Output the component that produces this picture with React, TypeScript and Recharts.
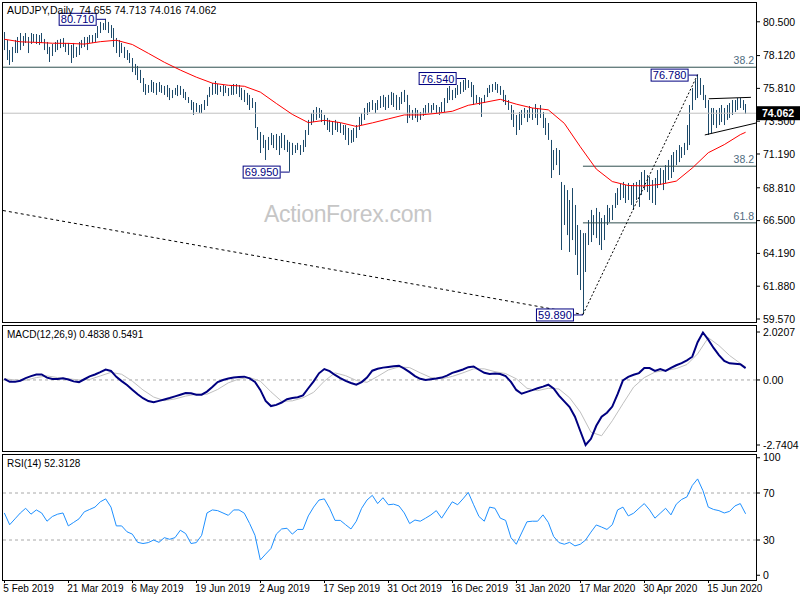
import React from "react";
import {
  ComposedChart,
  Bar,
  Line,
  XAxis,
  YAxis,
  ReferenceLine,
  ReferenceDot,
} from "recharts";

const FONT = '"Liberation Sans", Arial, sans-serif';
const BAR_COLOR = "#1d4a6a";

// daily highs / lows, AUDJPY Feb 2019 - Jun 2020
const highs = [
  79.78, 79.22, 78.51, 78.73, 79.22, 79.43, 79.71, 79.5, 79.71, 79.43,
  79.71, 79.64, 79.64, 79.57, 79.71, 79.29, 79.08, 78.73, 78.94, 79.08,
  79.22, 79.29, 79.36, 79.01, 79.01, 78.87, 79.01, 78.73, 79.08, 79.22,
  79.43, 79.43, 79.57, 79.57, 79.71, 80.2, 80.49, 80.41, 80.71, 80.49,
  80.27, 80.06, 79.36, 79.22, 79.01, 78.73, 78.51, 78.3, 77.95, 77.53,
  77.39, 77.11, 76.54, 76.12, 76.05, 76.4, 76.26, 76.19, 76.26, 76.05,
  75.98, 76.05, 75.84, 75.7, 75.84, 76.05, 75.98, 75.77, 75.56, 75.2,
  74.99, 74.85, 74.78, 74.64, 74.71, 74.99, 75.35, 75.91, 76.19, 76.33,
  76.12, 75.98, 76.05, 75.98, 75.84, 75.98, 76.12, 76.12, 76.05, 75.84,
  75.7, 75.49, 75.35, 75.13, 74.85, 73.09, 72.74, 72.53, 72.18, 72.39,
  72.67, 72.53, 72.6, 72.46, 72.67, 72.53, 72.18, 72.04, 71.97, 71.82,
  71.97, 71.82, 72.18, 72.88, 73.59, 74.08, 74.29, 74.5, 74.43, 74.29,
  73.94, 73.73, 73.59, 73.44, 73.59, 73.44, 73.37, 73.23, 73.23, 73.02,
  72.88, 73.02, 73.23, 73.8, 74.08, 74.43, 74.78, 74.85, 74.99, 74.78,
  74.99, 75.27, 75.35, 75.2, 75.35, 75.56, 75.49, 75.35, 75.2, 75.56,
  75.7, 75.35, 74.64, 74.29, 74.43, 74.29, 74.15, 74.43, 74.64, 74.78,
  74.64, 74.78, 74.64, 74.5, 74.85, 75.13, 75.84, 75.98, 75.7, 75.84,
  76.05, 76.26, 76.4, 76.54, 76.4, 76.26, 76.05, 75.35, 75.2, 75.13,
  75.35, 75.84, 76.05, 76.12, 76.26, 76.12, 75.98, 75.7, 75.35, 74.99,
  74.64, 74.29, 73.94, 74.15, 74.29, 74.43, 74.29, 74.57, 74.43, 74.71,
  74.43, 74.64, 74.15, 73.73, 73.37, 72.18, 71.47, 71.61, 71.47, 69.22,
  69.01, 68.65, 67.95, 68.79, 67.6, 66.19, 65.84, 65.62, 65.62, 66.54,
  67.25, 66.89, 67.39, 67.11, 66.68, 66.89, 67.6, 67.39, 67.6, 68.44,
  68.79, 69.08, 69.22, 69.01, 69.15, 69.01, 69.15, 69.22, 69.36, 69.92,
  70.06, 69.71, 69.57, 69.36, 69.5, 70.06, 70.2, 70.06, 70.41, 70.77,
  71.12, 71.33, 71.47, 71.82, 71.68, 71.97, 73.23, 74.64, 75.84, 76.4,
  76.78, 76.54, 76.05, 75.35, 74.99, 74.43, 74.43, 74.29, 74.43, 74.64,
  74.43, 74.64, 74.78, 74.99, 74.99, 75.13, 75.13, 74.99, 74.71,
];

const lows = [
  78.51, 77.81, 77.46, 77.67, 78.3, 78.3, 78.51, 78.8, 79.01, 78.3,
  78.94, 79.08, 78.94, 78.87, 79.01, 78.51, 78.23, 77.67, 78.09, 78.37,
  78.51, 78.65, 78.73, 78.37, 78.16, 77.6, 77.95, 78.02, 78.16, 78.65,
  78.73, 78.51, 79.01, 79.01, 79.08, 79.36, 79.71, 79.92, 79.92, 79.71,
  79.36, 78.73, 78.3, 78.02, 78.3, 77.95, 77.81, 77.6, 76.96, 76.75,
  76.4, 76.19, 75.56, 75.35, 75.49, 75.56, 75.49, 75.35, 75.56, 75.49,
  75.35, 75.2, 74.99, 75.13, 75.35, 75.27, 75.35, 75.13, 74.99, 74.78,
  74.29, 73.94, 74.15, 74.08, 74.08, 74.29, 74.57, 75.2, 75.35, 75.42,
  75.35, 75.56, 75.27, 75.49, 75.27, 75.35, 75.35, 75.42, 75.2, 74.99,
  74.85, 74.64, 74.29, 74.43, 73.02, 72.18, 71.26, 71.61, 70.77, 71.47,
  71.82, 71.61, 71.47, 71.12, 71.61, 71.47, 71.33, 69.95, 71.12, 71.26,
  71.47, 71.12, 71.33, 71.68, 72.53, 73.23, 73.44, 73.59, 73.73, 73.44,
  73.23, 72.88, 72.74, 72.53, 72.88, 72.74, 72.67, 72.53, 72.18, 71.82,
  71.97, 72.04, 72.32, 72.88, 73.23, 73.59, 73.94, 74.15, 74.29, 74.08,
  74.29, 74.43, 74.5, 74.29, 74.43, 74.64, 74.5, 74.29, 74.29, 74.71,
  74.85, 73.37, 73.73, 73.59, 73.73, 73.44, 73.59, 73.87, 73.94, 74.08,
  74.08, 74.29, 74.01, 73.94, 74.15, 74.15, 74.78, 74.99, 74.99, 75.13,
  75.35, 75.42, 75.56, 75.7, 75.84, 75.2, 74.64, 74.78, 74.64, 73.8,
  74.78, 75.2, 75.49, 75.56, 75.7, 75.49, 75.35, 74.85, 74.64, 74.29,
  73.59, 73.09, 72.53, 72.88, 73.23, 73.73, 73.44, 73.73, 73.59, 73.73,
  73.23, 73.73, 73.02, 72.53, 72.18, 69.5, 70.06, 70.41, 69.71, 64.43,
  66.19, 65.48, 64.29, 65.13, 64.08, 62.67, 61.61, 59.89, 62.88, 64.78,
  64.99, 65.48, 65.27, 64.78, 64.43, 65.13, 66.19, 66.4, 66.54, 67.39,
  67.6, 67.95, 68.09, 67.74, 67.95, 67.6, 67.25, 67.95, 67.46, 68.3,
  68.65, 68.51, 67.95, 67.74, 67.6, 68.79, 69.01, 68.65, 69.15, 69.36,
  69.5, 69.92, 70.41, 70.62, 70.91, 71.12, 71.47, 71.82, 74.29, 74.99,
  75.13, 75.35, 74.99, 74.43, 72.53, 72.67, 73.23, 73.02, 73.23, 73.44,
  73.23, 73.59, 73.73, 73.94, 74.15, 74.29, 74.43, 74.29, 74.02,
];

// moving average (red), one value every 6 bars + last bar
const maValues = [
  79.27, 79.09, 79.05, 78.99, 78.98, 78.93, 79.1, 79.2, 78.9, 78.28,
  77.65, 77.1, 76.6, 76.18, 76.03, 75.96, 75.55, 74.75, 73.98, 73.4,
  73.56, 73.4, 73.13, 73.38, 73.66, 73.94, 73.94, 74.05, 74.2, 74.62,
  74.82, 75.04, 74.7, 74.43, 74.3, 73.35, 71.7, 70.13, 69.25, 68.97,
  68.94, 69.05, 69.28, 70.2, 71.28, 71.85, 72.55, 72.72,
];

// MACD main line, every 2 bars
const macdValues = [
  0.05, -0.08, -0.08, -0.03, 0.08, 0.16, 0.23, 0.23, 0.1, 0.04,
  0.04, 0.07, 0.02, -0.06, -0.09, 0.03, 0.15, 0.23, 0.33, 0.44,
  0.38, 0.13, -0.05, -0.21, -0.41, -0.6, -0.77, -0.89, -0.94, -0.88,
  -0.82, -0.76, -0.69, -0.62, -0.55, -0.56, -0.62, -0.62, -0.49, -0.3,
  -0.09, 0.0, 0.06, 0.1, 0.12, 0.14, 0.07, -0.08, -0.42, -0.88,
  -1.1, -1.05, -0.95, -0.81, -0.76, -0.73, -0.65, -0.35, -0.06, 0.28,
  0.46, 0.37, 0.21, 0.08, -0.04, -0.13, -0.2, -0.09, 0.1, 0.39,
  0.47, 0.52, 0.55, 0.58, 0.6, 0.48, 0.33, 0.16, 0.05, 0.0,
  0.03, 0.06, 0.1, 0.18, 0.3, 0.37, 0.44, 0.54, 0.57, 0.43,
  0.3, 0.25, 0.27, 0.25, 0.16, -0.08, -0.42, -0.58, -0.5, -0.43,
  -0.35, -0.28, -0.2, -0.36, -0.66, -0.9, -1.14, -1.55, -2.15, -2.74,
  -2.48, -1.93, -1.55, -1.38, -1.12, -0.6, -0.02, 0.13, 0.22, 0.29,
  0.5, 0.5, 0.38, 0.46, 0.38, 0.51, 0.62, 0.71, 0.83, 0.98,
  1.59, 2.0, 1.7, 1.35, 1.05, 0.8, 0.7, 0.68, 0.66, 0.5,
];

// MACD signal, every 4 bars + last bar
const signalValues = [
  0.05, 0.0, -0.01, 0.1, 0.17, 0.1, 0.05, 0.0, 0.02, 0.17,
  0.32, 0.24, -0.05, -0.42, -0.72, -0.87, -0.8, -0.68, -0.6, -0.6,
  -0.4, -0.12, 0.04, 0.1, -0.05, -0.5, -0.9, -0.88, -0.75, -0.52,
  -0.05, 0.3, 0.18, -0.02, -0.1, 0.15, 0.42, 0.55, 0.52, 0.3,
  0.1, 0.05, 0.15, 0.3, 0.47, 0.47, 0.35, 0.27, 0.05, -0.35,
  -0.45, -0.35, -0.38, -0.75, -1.35, -2.2, -2.35, -1.72, -1.0, -0.3,
  0.1, 0.33, 0.4, 0.48, 0.65, 1.1, 1.78, 1.45, 1.03, 0.7,
  0.55,
];

// RSI(14), every 2 bars
const rsiValues = [
  53, 43, 48, 53, 57, 52, 55.6, 53, 46, 50,
  52, 53, 42, 45, 48, 54, 56, 58, 62.5, 65,
  58, 42, 42, 37, 35, 28, 27, 27.8, 30, 28,
  32, 30.6, 32, 38.3, 35.5, 27, 27.8, 34, 53, 55.6,
  55, 53, 51, 55.6, 55.6, 52.8, 44, 34, 13, 18,
  22.8, 35, 39.4, 40, 35, 39, 39, 50.5, 58, 64,
  65, 57, 46.7, 46.7, 43, 39.4, 46, 57, 64, 68,
  61, 66, 60, 60.5, 59, 53, 44, 47, 46, 48.6,
  51.4, 55, 48.6, 55.6, 62.5, 60, 65, 70.5, 60, 50,
  46, 58, 57, 48.6, 46.7, 32, 26.4, 36, 45.5, 46,
  46, 51.4, 45, 33, 27.8, 26.4, 28, 25, 26.4, 30,
  36.7, 42.8, 41, 39, 43, 55.6, 58, 50.5, 52.8, 57,
  61, 55.6, 48.6, 52.8, 57, 51.4, 60.5, 64.5, 66.7, 76.4,
  82, 72, 58, 56, 55, 53, 54.4, 59, 61, 52.3,
];

const dateLabels = [
  "5 Feb 2019", "21 Mar 2019", "6 May 2019", "19 Jun 2019", "2 Aug 2019",
  "17 Sep 2019", "31 Oct 2019", "16 Dec 2019", "31 Jan 2020", "17 Mar 2020",
  "30 Apr 2020", "15 Jun 2020",
];
const DATE_STEP = 24;

const priceTicks = [59.57, 61.88, 64.19, 66.5, 68.81, 71.19, 73.5, 75.81, 78.12, 80.5];
const macdTicks = [-2.7404, 0, 2.0207];
const rsiTicks = [0, 30, 70, 100];

const symbol = "AUDJPY,Daily";
const ohlc = [74.655, 74.713, 74.016, 74.062];
const lastClose = 74.062;
const macdLast = [0.4838, 0.5491];
const rsiLast = 52.3128;

// swing highs / lows with their value tags
const swingIdx = [38, 107, 173, 217, 260];
const swingPrice = [80.71, 69.95, 76.54, 59.89, 76.78];

// fibonacci levels
const fibLong = 77.3;
const fibLevels = [70.33, 66.34];
const fibNames = ["38.2", "61.8"];

// trend lines (bar index, price)
const longTrend = [{ x: -0.5, y: 67.21 }, { x: 217, y: 59.89 }];
const riseTrend = [{ x: 217, y: 59.89 }, { x: 260, y: 76.78 }];
const triTop = [{ x: 264.2, y: 75.08 }, { x: 280, y: 75.18 }];
const triBottom = [{ x: 262.7, y: 72.53 }, { x: 281.9, y: 73.37 }];

const LAST = highs.length - 1;
const X_DOMAIN: [number, number] = [-0.5, 281.9];

const pick = (vals: number[], step: number, i: number) =>
  i === LAST ? vals[vals.length - 1] : i % step === 0 ? vals[i / step] : null;

const priceData = highs.map((h, i) => ({
  i,
  range: [lows[i], h],
  ma: pick(maValues, 6, i),
}));

const oscData = highs.map((_, i) => ({
  i,
  macd: pick(macdValues, 2, i),
  signal: pick(signalValues, 4, i),
  rsi: pick(rsiValues, 2, i),
}));

const dateTicks = dateLabels.map((_, k) => k * DATE_STEP);

const axisTick = { fontSize: 10.5, fill: "#000", fontFamily: FONT };

const HLBar = (p: any) => (
  <rect
    x={Math.round(p.x + p.width / 2 - 0.5)}
    y={p.y}
    width={1}
    height={Math.max(1, p.height)}
    fill={BAR_COLOR}
  />
);

const swingTag = (text: string) => (p: any) => (
  <g>
    <line x1={p.cx - 9} y1={p.cy + 0.5} x2={p.cx} y2={p.cy + 0.5} stroke="#000080" />
    <rect x={p.cx - 46.5} y={p.cy - 5.5} width={37} height={12} fill="#fff" stroke="#000080" />
    <text x={p.cx - 28} y={p.cy + 4.5} textAnchor="middle" fontSize={11} fill="#000080" fontFamily={FONT}>
      {text}
    </text>
  </g>
);

const fibLabel = (text: string) => (props: any) => {
  const vb = props.viewBox || {};
  return (
    <text x={vb.x + vb.width - 2} y={vb.y - 3} textAnchor="end" fontSize={10.5} fill="#4f6b80" fontFamily={FONT}>
      {text}
    </text>
  );
};

const priceTag = (props: any) => {
  const vb = props.viewBox || {};
  return (
    <g>
      <rect x={vb.x + vb.width + 1} y={vb.y - 7} width={43} height={14} fill="#000" />
      <text x={vb.x + vb.width + 6} y={vb.y + 4} fontSize={10.5} fill="#fff" fontFamily={FONT} fontWeight="bold">
        {lastClose.toFixed(3)}
      </text>
    </g>
  );
};

const DateTick = (props: any) => {
  const { x, y, payload } = props;
  const label = dateLabels[dateTicks.indexOf(payload.value)];
  return (
    <g>
      <line x1={Math.round(x) + 0.5} y1={y} x2={Math.round(x) + 0.5} y2={y + 3} stroke="#000" />
      <text x={x - 1} y={y + 12} fontSize={10} fill="#000" fontFamily={FONT}>
        {label}
      </text>
    </g>
  );
};

export default function App() {
  return (
    <div style={{ position: "absolute", left: 0, top: 0, width: 800, height: 600, background: "#fff" }}>
      <svg width={800} height={600} style={{ position: "absolute", left: 0, top: 0 }}>
        <text x={264} y={222} fontSize={23} fill="#c6c6c6" fontFamily={FONT} letterSpacing={-0.3}>
          ActionForex.com
        </text>
      </svg>

      <div style={{ position: "absolute", left: 0, top: 0 }}>
        <ComposedChart width={800} height={329} data={priceData} margin={{ top: 3, right: 0, bottom: 7, left: 3 }}>
          <XAxis dataKey="i" type="number" domain={X_DOMAIN} allowDataOverflow hide />
          <YAxis
            orientation="right"
            type="number"
            domain={[59.359, 81.823]}
            allowDataOverflow
            ticks={priceTicks}
            interval={0}
            tickFormatter={(v: number) => v.toFixed(3)}
            width={44}
            axisLine={false}
            tickLine={{ stroke: "#000" }}
            tickSize={4}
            tickMargin={3}
            tick={axisTick}
          />
          <ReferenceLine y={lastClose} stroke="#c0c0c0" ifOverflow="visible" label={priceTag} />
          <ReferenceLine y={fibLong} stroke="#2f4f4f" ifOverflow="visible" label={fibLabel("38.2")} />
          {fibLevels.map((lv, k) => (
            <ReferenceLine
              key={fibNames[k]}
              segment={[{ x: swingIdx[3], y: lv }, { x: X_DOMAIN[1], y: lv }]}
              stroke="#2f4f4f"
              ifOverflow="visible"
              label={fibLabel(fibNames[k])}
            />
          ))}
          <ReferenceLine segment={longTrend} stroke="#000" strokeDasharray="3 3" ifOverflow="visible" />
          <ReferenceLine segment={riseTrend} stroke="#000" strokeDasharray="2 2" ifOverflow="visible" />
          <ReferenceLine segment={triTop} stroke="#000" ifOverflow="visible" />
          <ReferenceLine segment={triBottom} stroke="#000" ifOverflow="visible" />
          <Bar dataKey="range" barSize={1} shape={HLBar} isAnimationActive={false} />
          <Line
            dataKey="ma"
            stroke="#ff0000"
            strokeWidth={1}
            dot={false}
            connectNulls
            isAnimationActive={false}
          />
          {swingIdx.map((x, k) => (
            <ReferenceDot
              key={x}
              x={x}
              y={swingPrice[k]}
              r={0}
              ifOverflow="visible"
              shape={swingTag(swingPrice[k].toFixed(3))}
            />
          ))}
        </ComposedChart>
      </div>

      <div style={{ position: "absolute", left: 0, top: 325 }}>
        <ComposedChart width={800} height={127} data={oscData} margin={{ top: 0, right: 0, bottom: 0, left: 3 }}>
          <XAxis dataKey="i" type="number" domain={X_DOMAIN} allowDataOverflow hide />
          <YAxis
            orientation="right"
            type="number"
            domain={[-3.035, 2.316]}
            allowDataOverflow
            ticks={macdTicks}
            interval={0}
            tickFormatter={(v: number) => (v === 0 ? "0.00" : v.toFixed(4))}
            width={44}
            axisLine={false}
            tickLine={{ stroke: "#000" }}
            tickSize={4}
            tickMargin={3}
            tick={axisTick}
          />
          <ReferenceLine y={0} stroke="#a8a8a8" strokeDasharray="3 3" />
          <Line dataKey="signal" stroke="#c0c0c0" strokeWidth={1} dot={false} connectNulls isAnimationActive={false} />
          <Line dataKey="macd" stroke="#000080" strokeWidth={2} dot={false} connectNulls isAnimationActive={false} />
        </ComposedChart>
      </div>

      <div style={{ position: "absolute", left: 0, top: 448 }}>
        <ComposedChart width={800} height={152} data={oscData} margin={{ top: 6, right: 0, bottom: 0, left: 3 }}>
          <XAxis
            dataKey="i"
            type="number"
            domain={X_DOMAIN}
            allowDataOverflow
            ticks={dateTicks}
            interval={0}
            height={20}
            axisLine={false}
            tickLine={false}
            tickSize={0}
            tickMargin={0}
            tick={DateTick}
          />
          <YAxis
            orientation="right"
            type="number"
            domain={[-4.04, 103.2]}
            allowDataOverflow
            ticks={rsiTicks}
            interval={0}
            width={44}
            axisLine={false}
            tickLine={{ stroke: "#000" }}
            tickSize={4}
            tickMargin={3}
            tick={axisTick}
          />
          <ReferenceLine y={70} stroke="#a8a8a8" strokeDasharray="3 3" />
          <ReferenceLine y={30} stroke="#a8a8a8" strokeDasharray="3 3" />
          <Line dataKey="rsi" stroke="#1e90ff" strokeWidth={1} dot={false} connectNulls isAnimationActive={false} />
        </ComposedChart>
      </div>

      <svg width={800} height={600} style={{ position: "absolute", left: 0, top: 0, pointerEvents: "none" }}>
        <rect x={2.5} y={2.5} width={754} height={320} fill="none" stroke="#000" />
        <rect x={2.5} y={325.5} width={754} height={126} fill="none" stroke="#000" />
        <rect x={2.5} y={454.5} width={754} height={126} fill="none" stroke="#000" />
        <text x={7} y={14} fontSize={10.5} fill="#000" fontFamily={FONT} style={{ whiteSpace: "pre" }}>
          {`${symbol}  ${ohlc.map((v) => v.toFixed(3)).join(" ")}`}
        </text>
        <text x={7} y={338} fontSize={10} fill="#000" fontFamily={FONT}>
          {`MACD(12,26,9) ${macdLast[0].toFixed(4)} ${macdLast[1].toFixed(4)}`}
        </text>
        <text x={7} y={467} fontSize={10} fill="#000" fontFamily={FONT}>
          {`RSI(14) ${rsiLast.toFixed(4)}`}
        </text>
      </svg>
    </div>
  );
}
